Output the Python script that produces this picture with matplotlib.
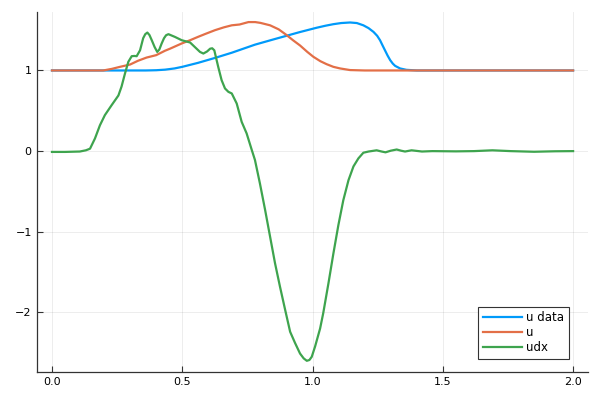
import matplotlib
matplotlib.use("Agg")
import matplotlib.pyplot as plt

# u data (blue)
x_data = [0.0, 0.30, 0.36, 0.40, 0.434, 0.47, 0.50, 0.56, 0.626, 0.69, 0.779, 0.85, 0.90, 0.95,
          1.016, 1.05, 1.08, 1.11, 1.144, 1.17, 1.195, 1.215, 1.234, 1.248, 1.259, 1.268,
          1.278, 1.288, 1.298, 1.308, 1.317, 1.336, 1.36, 1.40, 2.0]
y_data = [1.0, 1.0, 1.0, 1.003, 1.01, 1.025, 1.045, 1.094, 1.156, 1.22, 1.32, 1.385, 1.43, 1.475,
          1.53, 1.555, 1.574, 1.588, 1.595, 1.588, 1.56, 1.525, 1.478, 1.43, 1.375, 1.315,
          1.25, 1.185, 1.128, 1.085, 1.057, 1.025, 1.008, 1.0, 1.0]

# u (orange)
x_u = [0.0, 0.197, 0.23, 0.261, 0.30, 0.33, 0.363, 0.40, 0.434, 0.453, 0.498, 0.53, 0.56,
       0.59, 0.626, 0.66, 0.69, 0.72, 0.754, 0.78, 0.80, 0.837, 0.87, 0.90, 0.925, 0.952,
       0.98, 1.003, 1.03, 1.054, 1.08, 1.106, 1.144, 1.20, 2.0]
y_u = [1.0, 1.0, 1.02, 1.045, 1.074, 1.12, 1.16, 1.19, 1.245, 1.27, 1.335, 1.375, 1.416,
       1.455, 1.50, 1.535, 1.56, 1.57, 1.60, 1.60, 1.59, 1.56, 1.51, 1.44, 1.375, 1.31,
       1.23, 1.17, 1.115, 1.078, 1.045, 1.025, 1.005, 1.0, 1.0]

# udx (green)
x_udx = [0.0, 0.05, 0.107, 0.13, 0.146, 0.165, 0.184, 0.203, 0.229, 0.255, 0.267, 0.28, 0.293,
         0.306, 0.316, 0.325, 0.338, 0.35, 0.358, 0.366, 0.374, 0.383, 0.394, 0.404, 0.412,
         0.421, 0.43, 0.438, 0.447, 0.472, 0.498, 0.53, 0.555, 0.568, 0.581, 0.595, 0.607,
         0.615, 0.623, 0.638, 0.651, 0.664, 0.677, 0.69, 0.709, 0.728, 0.747, 0.767, 0.779,
         0.798, 0.818, 0.837, 0.856, 0.875, 0.895, 0.914, 0.933, 0.952, 0.966, 0.978, 0.988,
         0.997, 1.01, 1.029, 1.041, 1.061, 1.08, 1.099, 1.118, 1.138, 1.157, 1.176, 1.195,
         1.215, 1.246, 1.265, 1.28, 1.30, 1.323, 1.34, 1.355, 1.38, 1.42, 1.46, 1.55, 1.62,
         1.69, 1.76, 1.85, 1.93, 2.0]
y_udx = [-0.01, -0.01, -0.005, 0.01, 0.03, 0.157, 0.32, 0.446, 0.57, 0.69, 0.80, 0.96, 1.107,
         1.177, 1.18, 1.177, 1.25, 1.40, 1.45, 1.47, 1.44, 1.375, 1.29, 1.23, 1.26,
         1.335, 1.40, 1.437, 1.45, 1.416, 1.375, 1.347, 1.27, 1.23, 1.21, 1.235, 1.27,
         1.275, 1.25, 1.045, 0.88, 0.777, 0.735, 0.715, 0.59, 0.363, 0.22, 0.012, -0.11,
         -0.40, -0.73, -1.06, -1.39, -1.68, -1.97, -2.24, -2.38, -2.51, -2.57, -2.60, -2.59,
         -2.55, -2.42, -2.20, -2.01, -1.64, -1.27, -0.92, -0.61, -0.36, -0.19, -0.09, -0.02,
         -0.005, 0.01, -0.005, -0.015, 0.005, 0.02, 0.005, -0.005, 0.01, -0.005, 0.0, -0.003, 0.0,
         0.01, 0.0, -0.008, -0.002, 0.0]

x_ticks = [0.0, 0.5, 1.0, 1.5, 2.0]
x_ticklabels = ["0.0", "0.5", "1.0", "1.5", "2.0"]
y_ticks = [-2, -1, 0, 1]
y_ticklabels = ["\u22122", "\u22121", "0", "1"]

fig = plt.figure(figsize=(6, 4), dpi=100)
ax = fig.add_axes([0.061, 0.0708, 0.9185, 0.8992])

lw = 1.6
ax.plot(x_data, y_data, color="#009AFA", lw=lw, label="u data", solid_joinstyle="round")
ax.plot(x_u, y_u, color="#E36F47", lw=lw, label="u", solid_joinstyle="round")
ax.plot(x_udx, y_udx, color="#3EA44E", lw=lw, label="udx", solid_joinstyle="round")

ax.set_xlim(-0.059, 2.056)
ax.set_ylim(-2.735, 1.725)
ax.set_xticks(x_ticks)
ax.set_xticklabels(x_ticklabels)
ax.set_yticks(y_ticks)
ax.set_yticklabels(y_ticklabels)

ax.grid(True, color="black", alpha=0.07, lw=0.7)
for s in ["top", "right"]:
    ax.spines[s].set_visible(False)
for s in ["left", "bottom"]:
    ax.spines[s].set_color("#333333")
    ax.spines[s].set_linewidth(0.9)
ax.tick_params(direction="in", length=4, width=0.8, color="#333333", labelsize=8,
               labelcolor="black")

leg = ax.legend(loc="lower right", bbox_to_anchor=(0.977, 0.02), fontsize=8.5,
                fancybox=False, framealpha=1, edgecolor="#333333", handlelength=3.3,
                borderpad=0.4, labelspacing=0.15, handletextpad=0.4)
leg.get_frame().set_linewidth(0.8)

fig.savefig("out.png", dpi=100)
